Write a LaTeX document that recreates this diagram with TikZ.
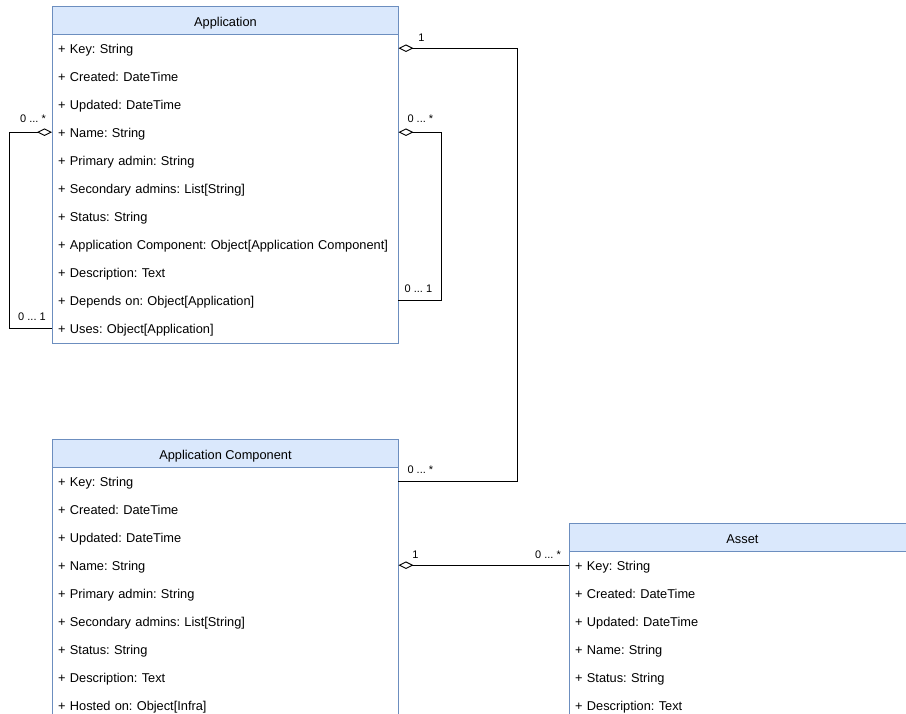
\documentclass[tikz,border=0pt]{standalone}
\usepackage{fontspec}
\setmainfont{Liberation Sans}
\usetikzlibrary{arrows.meta,calc}
\definecolor{umlborder}{HTML}{6C8EBF}
\definecolor{umlhead}{HTML}{DAE8FC}
\newcommand\umlfont{\fontsize{12.8}{15}\selectfont\frenchspacing}
\tikzset{
  classbody/.style={draw=umlborder, fill=white, line width=0.9pt, anchor=north west,
    minimum width=346pt, inner sep=0pt},
  classhead/.style={draw=umlborder, fill=umlhead, line width=0.9pt, anchor=north west,
    minimum width=346pt, minimum height=28pt, inner sep=0pt,
    text height=12pt, text depth=0.7pt, font=\umlfont},
  attrrow/.style={anchor=north west, minimum height=28pt, text width=334pt,
    inner xsep=6pt, inner ysep=0pt, align=left, text height=12pt, text depth=0.7pt,
    font=\umlfont},
  assoc/.style={draw=black, line width=0.9pt, {Diamond[open,length=15pt,width=7.5pt]}-},
  mult/.style={font=\fontsize{11}{13}\selectfont\frenchspacing, inner sep=0pt}
}
\begin{document}
\begin{tikzpicture}[x=1pt,y=-1pt]
\useasboundingbox (0,0) rectangle (906,714);
\clip (0,0) rectangle (906,714);

% ---- Application ----
\node[classbody, minimum height=337pt] (app) at (52,6) {};
\node[classhead] (app-h) at (52,6) {Application};
\foreach \t [count=\i] in {{+ Key: String},{+ Created: DateTime},{+ Updated: DateTime},
  {+ Name: String},{+ Primary admin: String},{+ Secondary admins: List[String]},
  {+ Status: String},{+ Application Component: Object[Application Component]},
  {+ Description: Text},{+ Depends on: Object[Application]},{+ Uses: Object[Application]}}
  \node[attrrow] (app-\i) at (52,{34+28*(\i-1)}) {\mbox{\t}};

% ---- Application Component ----
\node[classbody, minimum height=320pt] (comp) at (52,439) {};
\node[classhead] (comp-h) at (52,439) {Application Component};
\foreach \t [count=\i] in {{+ Key: String},{+ Created: DateTime},{+ Updated: DateTime},
  {+ Name: String},{+ Primary admin: String},{+ Secondary admins: List[String]},
  {+ Status: String},{+ Description: Text},{+ Hosted on: Object[Infra]}}
  \node[attrrow] (comp-\i) at (52,{467+28*(\i-1)}) {\mbox{\t}};

% ---- Asset ----
\node[classbody, minimum height=240pt] (asset) at (569,523) {};
\node[classhead] (asset-h) at (569,523) {Asset};
\foreach \t [count=\i] in {{+ Key: String},{+ Created: DateTime},{+ Updated: DateTime},
  {+ Name: String},{+ Status: String},{+ Description: Text}}
  \node[attrrow] (asset-\i) at (569,{551+28*(\i-1)}) {\mbox{\t}};

% ---- bend points ----
\coordinate (busR) at (517,0);
\coordinate (loopR) at (441,0);
\coordinate (loopL) at (9,0);

% Application -> Application Component
\draw[assoc] (app-1.east) -- (app-1.east -| busR) |- (comp-1.east);
\node[mult] at ($(app-1.east)+(23,-10)$) {1};
\node[mult] at ($(comp-1.east)+(22,-11)$) {0 ... *};

% Application depends on Application
\draw[assoc] (app-4.east) -- (app-4.east -| loopR) |- (app-10.east);
\node[mult] at ($(app-4.east)+(22,-13)$) {0 ... *};
\node[mult] at ($(app-10.east)+(20,-11)$) {0 ... 1};

% Application uses Application
\draw[assoc] (app-4.west) -- (app-4.west -| loopL) |- (app-11.west);
\node[mult] at ($(app-4.west)+(-19,-13)$) {0 ... *};
\node[mult] at ($(app-11.west)+(-20,-11)$) {0 ... 1};

% Application Component -> Asset
\draw[assoc] (comp-4.east) -- (asset-1.west);
\node[mult] at ($(comp-4.east)+(17,-10)$) {1};
\node[mult] at ($(asset-1.west)+(-21,-10)$) {0 ... *};
\end{tikzpicture}
\end{document}
